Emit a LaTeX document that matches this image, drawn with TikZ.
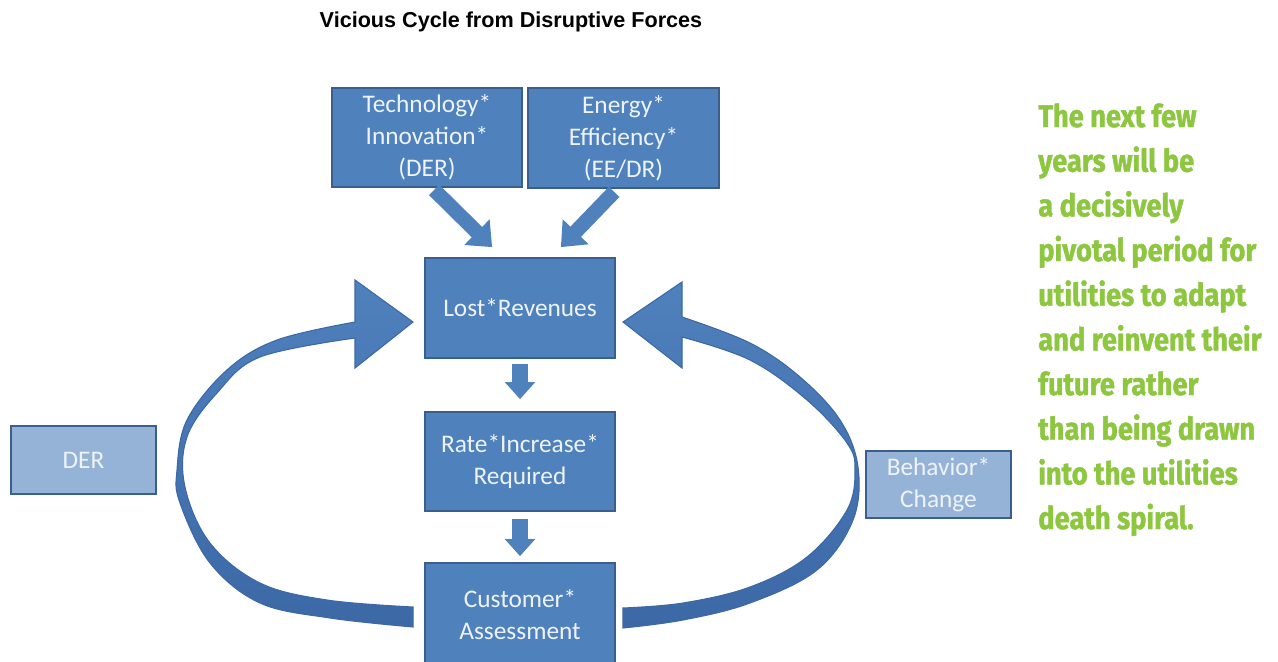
\documentclass[tikz,border=0pt]{standalone}
\usepackage{fontspec}
\setmainfont{Carlito}
\newfontfamily\titlefont{Liberation Sans}
\newfontfamily\greenfont[FakeStretch=0.87, BoldFeatures={FakeBold=1.2}]{Fira Sans}
\usetikzlibrary{arrows.meta,calc}
\definecolor{boxblue}{HTML}{4F81BD}
\definecolor{boxedge}{HTML}{3A5F8F}
\definecolor{arrowdark}{HTML}{3C68A6}
\definecolor{lightblue}{HTML}{95B3D7}
\definecolor{boxtext}{HTML}{EEF3FA}
\definecolor{quotegreen}{HTML}{8DC63F}
\begin{document}
\begin{tikzpicture}[x=0.75pt,y=-0.75pt,
  box/.style={draw=boxedge, line width=1.3pt, fill=boxblue, text=boxtext, align=center,
    font=\fontsize{19}{24}\selectfont, inner sep=0pt},
  lightbox/.style={box, fill=lightblue},
  diagarrow/.style={draw=boxblue, line width=11pt, -{Triangle[length=16pt,width=26pt]}},
  downarrow/.style={draw=boxblue, line width=12.5pt, -{Triangle[length=12.75pt,width=22pt]}},
  curvedarrow/.style={draw=arrowdark, line width=0.8pt, top color=boxblue, bottom color=arrowdark}
]
\clip (0,0) rectangle (1278,661);
\fill[white] (0,0) rectangle (1278,661);

\node[font=\titlefont\bfseries\fontsize{16.2}{19}\selectfont, text=black] (title) at (511,22) {Vicious Cycle from Disruptive Forces};

\node[box, minimum width=142.5pt, minimum height=74.25pt] (tech) at (427,137.5) {Technology*\\Innovation*\\(DER)};
\node[box, minimum width=143.25pt, minimum height=75pt] (energy) at (623.5,138) {Energy*\\Efficiency*\\(EE/DR)};
\node[box, minimum width=142.5pt, minimum height=75pt] (lost) at (520,308) {Lost*Revenues};
\node[box, minimum width=142.5pt, minimum height=74.25pt] (rate) at (520,461.5) {Rate*Increase*\\Required};
\node[box, minimum width=142.5pt, minimum height=78pt] (cust) at (520,615) {Customer*\\Assessment};
\node[lightbox, minimum width=108.75pt, minimum height=51pt] (der) at (83.5,460) {DER};
\node[lightbox, minimum width=108.75pt, minimum height=50.25pt] (beh) at (938.5,484.5) {Behavior*\\Change};

% diagonal arrows
\coordinate (t1) at ($(tech.south west)+(103,2)$);
\coordinate (t2) at ($(lost.north west)+(68,-10)$);
\coordinate (e1) at ($(energy.south west)+(87,3)$);
\coordinate (e2) at ($(lost.north east)+(-55,-10)$);
\draw[diagarrow] (t1) -- (t2);
\draw[diagarrow] (e1) -- (e2);

% down arrows
\draw[downarrow, shorten <=3.75pt, shorten >=9pt] (lost) -- (rate);
\draw[downarrow, shorten <=5.25pt, shorten >=4.5pt] (rate) -- (cust);

% left curved arrow
\path[curvedarrow] (413,627)
  -- plot[smooth, tension=0.6] coordinates {(413,627) (330,618) (260,603) (210,563) (180,503) (177,470) (187,420) (227,370) (277,340) (355,322)}
  -- (355,280) -- (413,322) -- (355,368)
  -- plot[smooth, tension=0.6] coordinates {(355,338) (260,357) (217,393) (187,437) (185,487) (210,543) (260,583) (327,600) (413,607)}
  -- cycle;

% right curved arrow
\path[curvedarrow] (623,628)
  -- plot[smooth, tension=0.6] coordinates {(623,628) (683,620) (750,603) (817,570) (853,520) (858,467) (840,420) (800,377) (750,343) (682,317)}
  -- (682,282) -- (623,322) -- (682,368)
  -- plot[smooth, tension=0.6] coordinates {(682,337) (750,360) (807,400) (847,443) (855,470) (847,510) (807,557) (750,587) (683,603) (623,608)}
  -- cycle;

\node[anchor=north west, align=left, inner sep=0pt, text=quotegreen,
  font=\greenfont\bfseries\fontsize{23.5}{33.5}\selectfont] (quote) at (1038,103)
  {The next few\\years will be\\a decisively\\pivotal period for\\utilities to adapt\\and reinvent their\\future rather\\than being drawn\\into the utilities\\death spiral.};
\end{tikzpicture}
\end{document}
